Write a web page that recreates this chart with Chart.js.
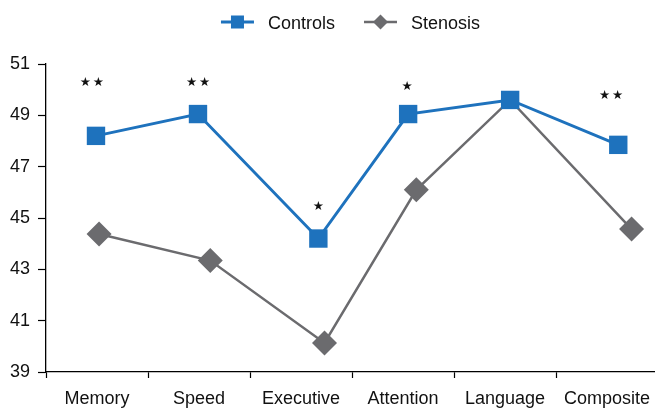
<!DOCTYPE html>
<html>
<head>
<meta charset="utf-8">
<script src="https://cdn.jsdelivr.net/npm/chart.js@4/dist/chart.umd.min.js"></script>
<style>
  html, body { margin: 0; padding: 0; background: #fff; }
  #wrap { width: 655px; height: 410px; }
</style>
</head>
<body>
<div id="wrap"><canvas id="c" width="655" height="410"></canvas></div>
<script>
// Cognitive domain scores by group
const categories = ['Memory', 'Speed', 'Executive', 'Attention', 'Language', 'Composite'];
const controls = [48.2, 49.05, 44.2, 49.05, 49.6, 47.85];
const stenosis = [44.38, 43.34, 40.13, 46.1, 49.6, 44.57];
// horizontal placement of each marker within its category slot
const controlsX = [0.49, 1.49, 2.67, 3.55, 4.55, 5.61];
const stenosisX = [0.52, 1.61, 2.73, 3.63, 4.55, 5.74];
const yTicks = [39, 41, 43, 45, 47, 49, 51];
// significance marks above the control group
const sigMarks = ['**', '**', '*', '*', '', '**'];
const sigX = [0.45, 1.49, 2.67, 3.54, 4.55, 5.54];
const sigY = [50.26, 50.26, 45.45, 50.13, null, 49.78];

const BLUE = '#1E72BD';
const GREY = '#6B6B6E';
const FONT = '"Liberation Sans", Arial, Helvetica, sans-serif';

const sigPlugin = {
  id: 'sigStars',
  afterDatasetsDraw(chart) {
    const { ctx, scales: { x, y } } = chart;
    ctx.save();
    ctx.font = '12.5px "DejaVu Sans"';
    ctx.fillStyle = '#111';
    ctx.textAlign = 'center';
    ctx.textBaseline = 'middle';
    sigMarks.forEach((m, i) => {
      if (!m) return;
      const n = m.length, gap = 13;
      const cx = x.getPixelForValue(sigX[i]);
      const cy = y.getPixelForValue(sigY[i]);
      for (let k = 0; k < n; k++) {
        ctx.fillText('\u2605', cx + (k - (n - 1) / 2) * gap, cy);
      }
    });
    ctx.restore();
  }
};

const keyPlugin = {
  id: 'keyRow',
  afterDraw(chart) {
    const { ctx, chartArea } = chart;
    ctx.save();
    ctx.font = '18px ' + FONT;
    const items = chart.data.datasets.map(d => ({ label: d.label, color: d.borderColor, style: d.pointStyle }));
    const sym = 33, gapText = 14, gapItem = 29;
    const widths = items.map(it => ctx.measureText(it.label).width);
    const total = items.length * (sym + gapText) + widths.reduce((a, b) => a + b, 0) + gapItem * (items.length - 1);
    let x0 = (chartArea.left + chartArea.right) / 2 - total / 2;
    const yc = 22;
    items.forEach((it, i) => {
      ctx.strokeStyle = it.color;
      ctx.fillStyle = it.color;
      ctx.lineWidth = it.style === 'rect' ? 3 : 2.5;
      ctx.beginPath();
      ctx.moveTo(x0, yc);
      ctx.lineTo(x0 + sym, yc);
      ctx.stroke();
      const cx = x0 + sym / 2;
      if (it.style === 'rect') {
        ctx.fillRect(cx - 6.5, yc - 6.5, 13, 13);
      } else {
        const r = 7.5;
        ctx.beginPath();
        ctx.moveTo(cx, yc - r);
        ctx.lineTo(cx + r, yc);
        ctx.lineTo(cx, yc + r);
        ctx.lineTo(cx - r, yc);
        ctx.closePath();
        ctx.fill();
      }
      ctx.fillStyle = '#111';
      ctx.textBaseline = 'alphabetic';
      ctx.fillText(it.label, x0 + sym + gapText, yc + 6.5);
      x0 += sym + gapText + widths[i] + gapItem;
    });
    ctx.restore();
  }
};

new Chart(document.getElementById('c'), {
  type: 'line',
  data: {
    datasets: [
      {
        label: 'Controls',
        data: controls.map((v, i) => ({ x: controlsX[i], y: v })),
        borderColor: BLUE,
        backgroundColor: BLUE,
        borderWidth: 3,
        pointStyle: 'rect',
        pointRadius: 13,
        pointHoverRadius: 13,
        pointBorderWidth: 0,
        tension: 0,
        clip: false
      },
      {
        label: 'Stenosis',
        data: stenosis.map((v, i) => ({ x: stenosisX[i], y: v })),
        borderColor: GREY,
        backgroundColor: GREY,
        borderWidth: 2.5,
        pointStyle: 'rectRot',
        // where both groups coincide the diamond sits under the square
        pointRadius: c => (stenosis[c.dataIndex] === controls[c.dataIndex]) ? 9 : 12.5,
        pointHoverRadius: 12.5,
        pointBorderWidth: 0,
        tension: 0,
        clip: false
      }
    ]
  },
  options: {
    responsive: false,
    animation: false,
    devicePixelRatio: 1,
    layout: { autoPadding: false, padding: { top: 64, left: 0, right: 0, bottom: 0 } },
    plugins: { legend: { display: false }, tooltip: { enabled: false } },
    scales: {
      x: {
        type: 'linear',
        min: 0,
        max: 5.97,
        afterBuildTicks: s => {
          const t = [];
          for (let v = 0; v <= 5.5; v += 0.5) t.push({ value: v });
          s.ticks = t;
        },
        afterFit: s => { s.height = 38; s.paddingLeft = 0; s.paddingRight = 0; },
        grid: {
          drawOnChartArea: false,
          drawTicks: true,
          tickLength: 6,
          tickWidth: 1.2,
          tickColor: c => (c.tick && Number.isInteger(c.tick.value)) ? '#000' : 'rgba(0,0,0,0)'
        },
        border: { color: '#000', width: 1.3 },
        ticks: {
          autoSkip: false,
          maxRotation: 0,
          padding: 10,
          color: '#111',
          font: { family: FONT, size: 18 },
          callback: v => Number.isInteger(v) ? '' : categories[Math.floor(v)]
        }
      },
      y: {
        min: 39,
        max: 51,
        afterBuildTicks: s => { s.ticks = yTicks.map(v => ({ value: v })); },
        afterFit: s => { s.width = 46; },
        grid: {
          drawOnChartArea: false,
          drawTicks: true,
          tickLength: 8,
          tickWidth: 1.2,
          tickColor: '#000'
        },
        border: { color: '#000', width: 1.3 },
        ticks: {
          padding: 8,
          color: '#111',
          font: { family: FONT, size: 18 }
        }
      }
    }
  },
  plugins: [sigPlugin, keyPlugin]
});
</script>
</body>
</html>
